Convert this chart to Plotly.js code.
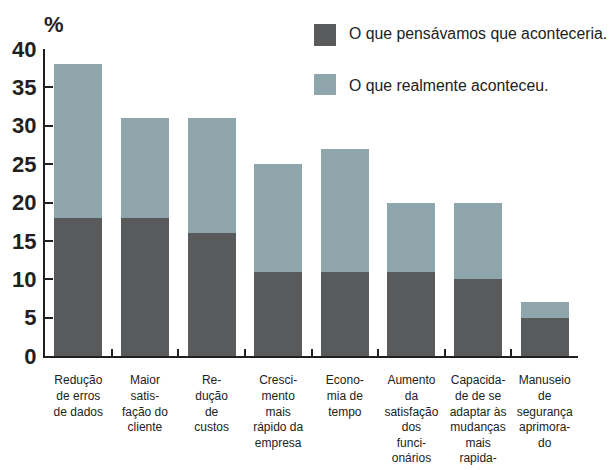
<!DOCTYPE html>
<html>
<head>
<meta charset="utf-8">
<script src="https://cdn.plot.ly/plotly-3.0.1.min.js"></script>
<style>html,body{margin:0;padding:0;background:#fff;}#chart{width:611px;height:470px;}</style>
</head>
<body>
<div id="chart"></div>
<script>
var categories = [
  "Redução<br>de erros<br>de dados",
  "Maior<br>satis-<br>fação do<br>cliente",
  "Re-<br>dução<br>de<br>custos",
  "Cresci-<br>mento<br>mais<br>rápido da<br>empresa",
  "Econo-<br>mia de<br>tempo",
  "Aumento<br>da<br>satisfação<br>dos<br>funci-<br>onários",
  "Capacida-<br>de de se<br>adaptar às<br>mudanças<br>mais<br>rapida-",
  "Manuseio<br>de<br>segurança<br>aprimora-<br>do"
];
var expected = [18, 18, 16, 11, 11, 11, 10, 5];
var actualExtra = [20, 13, 15, 14, 16, 9, 10, 2];
var seriesNames = ["O que pensávamos que aconteceria.", "O que realmente aconteceu."];
var yTicks = [0, 5, 10, 15, 20, 25, 30, 35, 40];

var darkColor = "#595a5c";
var lightColor = "#8da5ab";
var ink = "#231f20";

var traces = [
  {type: "bar", x: categories, y: expected, name: seriesNames[0], marker: {color: darkColor}, hoverinfo: "y"},
  {type: "bar", x: categories, y: actualExtra, name: seriesNames[1], marker: {color: lightColor}, hoverinfo: "y"}
];

var layout = {
  width: 611, height: 470,
  margin: {l: 45, r: 33, t: 49, b: 114},
  paper_bgcolor: "#fff", plot_bgcolor: "#fff",
  barmode: "stack",
  bargap: 0.28,
  showlegend: false,
  font: {family: "Liberation Sans, Arial, sans-serif", color: ink},
  xaxis: {
    type: "category",
    showline: true, linecolor: ink, linewidth: 2,
    ticks: "inside", tickson: "boundaries", ticklen: 7, tickwidth: 2, tickcolor: ink,
    tickfont: {size: 12, color: "#222"},
    ticklabelstandoff: 12,
    tickangle: 0,
    showgrid: false, zeroline: false, fixedrange: true
  },
  yaxis: {
    range: [0, 40],
    tickvals: yTicks,
    ticktext: yTicks.map(String),
    showline: true, linecolor: ink, linewidth: 2,
    ticks: "inside", ticklen: 8, tickwidth: 2, tickcolor: ink,
    tickfont: {size: 22, color: ink, weight: "bold"},
    ticklabelstandoff: 2,
    showgrid: false, zeroline: false, fixedrange: true
  },
  shapes: [
    {type: "rect", xref: "paper", yref: "paper", x0: 0.5047, x1: 0.546, y0: 1.0098, y1: 1.0814, fillcolor: darkColor, line: {width: 0}},
    {type: "rect", xref: "paper", yref: "paper", x0: 0.5047, x1: 0.546, y0: 0.8502, y1: 0.9186, fillcolor: lightColor, line: {width: 0}}
  ],
  annotations: [
    {text: "%", xref: "paper", yref: "paper", x: -0.006, y: 1.081, xanchor: "left", yanchor: "middle", showarrow: false, font: {size: 22, color: ink, weight: "bold"}},
    {text: seriesNames[0], xref: "paper", yref: "paper", x: 0.5657, y: 1.052, xanchor: "left", yanchor: "middle", showarrow: false, font: {size: 15.8, color: "#222"}},
    {text: seriesNames[1], xref: "paper", yref: "paper", x: 0.5675, y: 0.8827, xanchor: "left", yanchor: "middle", showarrow: false, font: {size: 15.8, color: "#222"}}
  ]
};

Plotly.newPlot("chart", traces, layout, {displayModeBar: false, staticPlot: true});
</script>
</body>
</html>
